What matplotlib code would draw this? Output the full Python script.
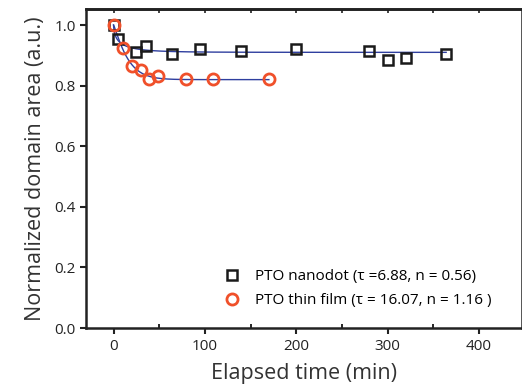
import numpy as np
import matplotlib
matplotlib.use("Agg")
import matplotlib.pyplot as plt
from matplotlib.ticker import MultipleLocator

plt.rcParams['font.family'] = ['Open Sans', 'DejaVu Sans']

# nanodot data
t_dot = [0, 5, 25, 35, 64, 95, 140, 200, 280, 300, 320, 364]
a_dot = [1.0, 0.953, 0.910, 0.931, 0.905, 0.922, 0.913, 0.922, 0.915, 0.884, 0.891, 0.906]

# thin film data
t_film = [0, 10, 20, 30, 39, 49, 79, 109, 170]
a_film = [1.0, 0.925, 0.865, 0.851, 0.821, 0.832, 0.821, 0.821, 0.821]

# fit parameters (stretched exponential)
tau_dot, n_dot, inf_dot = 6.88, 0.56, 0.91
tau_film, n_film, inf_film = 16.07, 1.16, 0.82


def kww(t, tau, n, yinf):
    return yinf + (1 - yinf) * np.exp(-(t / tau) ** n)


fig = plt.figure(figsize=(5.22, 3.92), dpi=100)
ax = fig.add_axes([0.165, 0.163, 0.835, 0.814])

tt = np.linspace(0, max(t_dot), 600)
ax.plot(tt, kww(tt, tau_dot, n_dot, inf_dot), color='#2f3f9f', lw=1)
tt = np.linspace(0, max(t_film), 400)
ax.plot(tt, kww(tt, tau_film, n_film, inf_film), color='#2f3f9f', lw=1)

ax.plot(t_dot, a_dot, 's', ms=7, mfc='none', mec='#1a1a1a', mew=1.8,
        label='PTO nanodot (τ =6.88, n = 0.56)')
ax.plot(t_film, a_film, 'o', ms=8, mfc='none', mec='#f0502a', mew=2.0,
        label='PTO thin film (τ = 16.07, n = 1.16 )')

ax.set_xlim(-30, 447)
ax.set_ylim(0, 1.053)
ax.xaxis.set_major_locator(MultipleLocator(100))
ax.xaxis.set_minor_locator(MultipleLocator(50))
ax.yaxis.set_major_locator(MultipleLocator(0.2))
ax.yaxis.set_major_formatter(matplotlib.ticker.FormatStrFormatter('%.1f'))
ax.tick_params(axis='both', which='major', direction='out', length=4, width=1.5,
               labelsize=11, colors='#222222')
ax.tick_params(axis='x', which='minor', direction='in', length=3, width=1.2)

# top axis ticks point inward
top = ax.secondary_xaxis('top')
top.xaxis.set_major_locator(MultipleLocator(50))
top.tick_params(direction='in', length=3, width=1.2, labeltop=False, colors='#222222')
top.spines['top'].set_linewidth(1.8)

for s in ax.spines.values():
    s.set_linewidth(1.8)
    s.set_color('#222222')

ax.set_xlabel('Elapsed time (min)', fontsize=15.5, color='#333333', labelpad=7)
ax.set_ylabel('Normalized domain area (a.u.)', fontsize=15.5, color='#333333', labelpad=6)

ax.legend(loc='lower right', bbox_to_anchor=(0.976, 0.0), frameon=False, fontsize=11,
          handlelength=1.0, handletextpad=1.0, labelspacing=0.6, borderaxespad=0.9)

fig.savefig('out.png', dpi=100)
